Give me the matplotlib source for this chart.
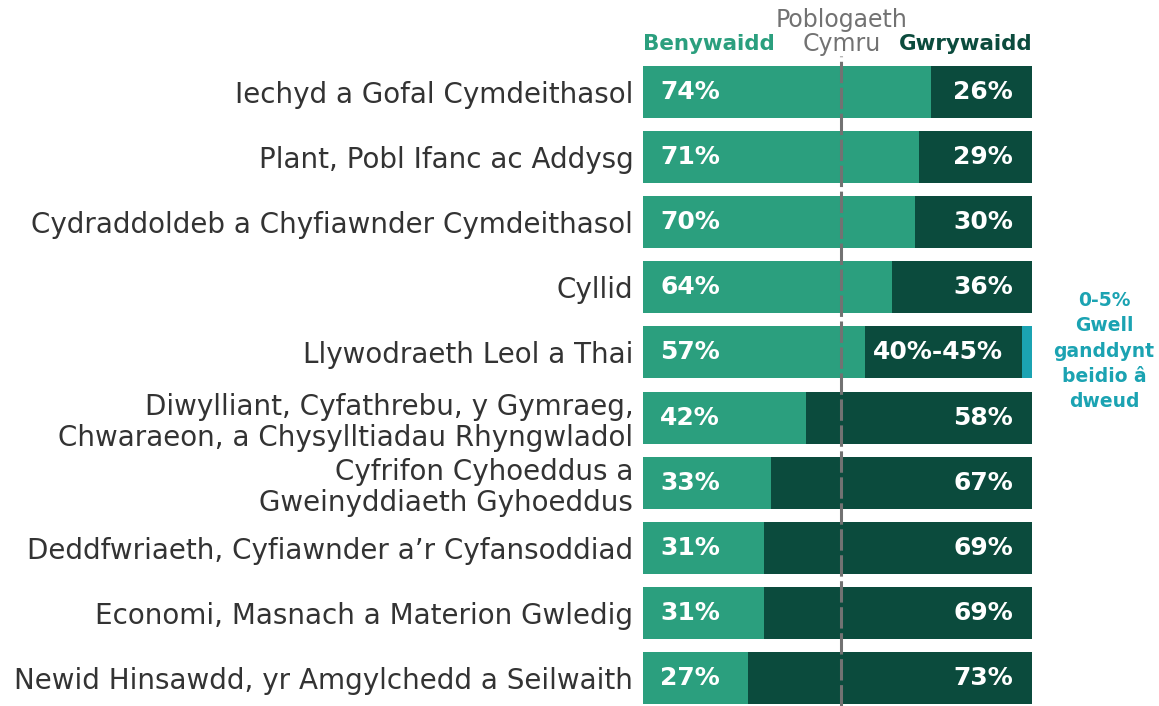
import matplotlib
matplotlib.use("Agg")
import matplotlib.pyplot as plt

# data
categories = [
    "Iechyd a Gofal Cymdeithasol",
    "Plant, Pobl Ifanc ac Addysg",
    "Cydraddoldeb a Chyfiawnder Cymdeithasol",
    "Cyllid",
    "Llywodraeth Leol a Thai",
    "Diwylliant, Cyfathrebu, y Gymraeg,\nChwaraeon, a Chysylltiadau Rhyngwladol",
    "Cyfrifon Cyhoeddus a\nGweinyddiaeth Gyhoeddus",
    "Deddfwriaeth, Cyfiawnder a\u2019r Cyfansoddiad",
    "Economi, Masnach a Materion Gwledig",
    "Newid Hinsawdd, yr Amgylchedd a Seilwaith",
]
female = [74, 71, 70, 64, 57, 42, 33, 31, 31, 27]
male = [26, 29, 30, 36, 40.5, 58, 67, 69, 69, 73]
not_say = [0, 0, 0, 0, 2.5, 0, 0, 0, 0, 0]
female_labels = ["74%", "71%", "70%", "64%", "57%", "42%", "33%", "31%", "31%", "27%"]
male_labels = ["26%", "29%", "30%", "36%", "40%-45%", "58%", "67%", "69%", "69%", "73%"]
wales_pop = 51

c_f = "#2b9f7e"
c_m = "#0b4b3d"
c_ns = "#1ba3b2"
c_txt = "#333333"
c_grey = "#727272"

plt.rcParams['font.family'] = ['DejaVu Sans']

fig = plt.figure(figsize=(11.59, 7.06), dpi=100)
W, H = 1159, 706
top = 59.5
ax = fig.add_axes([643 / W, 0, 389 / W, (H - top) / H])

y = list(range(len(categories)))
ax.barh(y, female, height=0.8, color=c_f)
ax.barh(y, male, left=female, height=0.8, color=c_m)
lefts = [f + m for f, m in zip(female, male)]
ax.barh(y, not_say, left=lefts, height=0.8, color=c_ns)

for i in y:
    ax.text(4.4, i, female_labels[i], color="white", fontsize=18,
            fontweight="bold", va="center", ha="left")
    ax.text(lefts[i] - 4.9, i, male_labels[i], color="white", fontsize=18,
            fontweight="bold", va="center", ha="right")

ax.axvline(wales_pop, ymin=0, ymax=1.006, color=c_grey, lw=2.2,
           ls=(0, (7, 1.5)), clip_on=False, zorder=5)

ax.set_xlim(0, 100)
ax.set_ylim(-0.5 + (H - top) / 65.1, -0.5)
ax.set_yticks(y)
ax.set_yticklabels(categories, fontsize=20, color=c_txt, linespacing=1.15)
ax.tick_params(axis="y", length=0, pad=7)
ax.set_xticks([])
for s in ax.spines.values():
    s.set_visible(False)

# header
ax.text(0, 1.0147, "Benywaidd", transform=ax.transAxes, color=c_f,
        fontsize=15.4, fontweight="bold", ha="left", va="baseline")
ax.text(1, 1.0147, "Gwrywaidd", transform=ax.transAxes, color=c_m,
        fontsize=15.4, fontweight="bold", ha="right", va="baseline")
ax.text(wales_pop / 100, 1.0055, "Poblogaeth\nCymru", transform=ax.transAxes,
        color=c_grey, fontsize=17, ha="center", va="bottom", linespacing=1.0)

# side note
ax.text(118.5, 3.98, "0-5%\nGwell\nganddynt\nbeidio \u00e2\ndweud", color=c_ns,
        fontsize=13.5, fontweight="bold", ha="center", va="center",
        linespacing=1.42, clip_on=False)

fig.savefig("out.png", dpi=100)
